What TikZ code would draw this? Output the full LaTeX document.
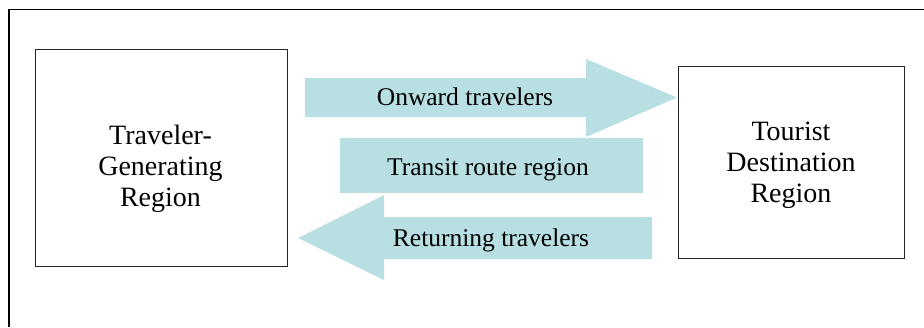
\documentclass[tikz,border=0pt]{standalone}
\usepackage{fontspec}
\setmainfont{Liberation Serif}
\begin{document}
\begin{tikzpicture}[x=1pt,y=-1pt,
  region/.style={draw=black!85,line width=1pt,fill=white},
  band/.style={fill=flowblue,draw=none},
  boxtext/.style={font=\fontsize{28}{31}\selectfont,align=center,inner sep=0pt},
  flowtext/.style={font=\fontsize{25.5}{30}\selectfont,inner sep=0pt,anchor=base}]
\definecolor{flowblue}{RGB}{184,223,226}
\useasboundingbox (0,0) rectangle (924,327);
% frame (top and left edges only)
\draw[line width=1.3pt] (9,327) -- (9,9.5) -- (924,9.5);
% regions
\node[region,minimum width=252pt,minimum height=217pt,inner sep=0pt] (gen) at (161,157.5) {};
\node[region,minimum width=226pt,minimum height=192pt,inner sep=0pt] (dest) at (791,162) {};
\node[boxtext] (gentext) at (160.5,169) {Traveler-\\Generating\\Region};
\node[boxtext] (desttext) at (791,165.5) {Tourist\\Destination\\Region};
% onward arrow
\fill[band] (305,78) -- (586,78) -- (586,59) -- (677,97.5) -- (586,137) -- (586,117) -- (305,117) -- cycle;
\node[flowtext] (onward) at (465,105.7) {Onward travelers};
% transit band
\fill[band] (340,138) rectangle (643,193);
\node[flowtext] (transit) at (488,175) {Transit route region};
% returning arrow
\fill[band] (652,217) -- (384,217) -- (384,195) -- (298,238) -- (384,280) -- (384,259) -- (652,259) -- cycle;
\node[flowtext] (returning) at (491,246.7) {Returning travelers};
\end{tikzpicture}
\end{document}
